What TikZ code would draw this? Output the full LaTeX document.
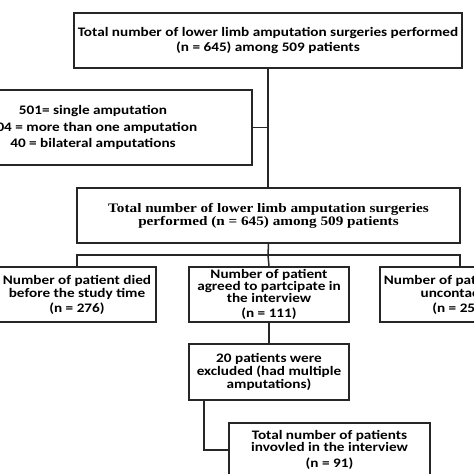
\documentclass[tikz,border=0pt]{standalone}
\usepackage{fontspec}
\setmainfont{Carlito}[FakeStretch=1.17]
\newfontfamily\serifbox{Liberation Serif}[FakeStretch=1.17]
\begin{document}
\begin{tikzpicture}[x=1pt,y=-1pt,
  box/.style={draw=black!85,line width=1.7pt,inner sep=0pt,align=center,
    font=\fontsize{13}{15.5}\selectfont\bfseries},
  conn/.style={draw=black!85,line width=1.5pt}]
\useasboundingbox (0,0) rectangle (474,474);
\clip (0,0) rectangle (474,474);
\node[box,minimum width=388,minimum height=55] (t) at (268,40.5)
  {Total number of lower limb amputation surgeries performed\\(n = 645) among 509 patients};
\node[box,minimum width=318,minimum height=75,font=\fontsize{13}{16.5}\selectfont\bfseries] (b2) at (93,127.5)
  {501= single amputation\\104 = more than one amputation\\40 = bilateral amputations};
\node[box,minimum width=383,minimum height=55,font=\serifbox\fontsize{13}{13}\selectfont\bfseries] (b3) at (268.5,215.5)
  {Total number of lower limb amputation surgeries\\performed (n = 645) among 509 patients};
\node[box,minimum width=158,minimum height=55,font=\fontsize{13}{13}\selectfont\bfseries] (b4) at (77,294.5)
  {Number of patient died\\before the study time\\[2pt](n = 276)};
\node[box,minimum width=160,minimum height=55,font=\fontsize{13}{12}\selectfont\bfseries] (b5) at (269,294.5)
  {Number of patient\\agreed to partcipate in\\the interview\\[3pt](n = 111)};
\node[box,minimum width=160,minimum height=55,font=\fontsize{13}{13}\selectfont\bfseries] (b6) at (460,294.5)
  {Number of patient were\\uncontacted\\[2pt](n = 258)};
\node[box,minimum width=160,minimum height=56,font=\fontsize{13}{11.5}\selectfont\bfseries] (b7) at (269,372)
  {20 patients were\\excluded (had multiple\\amputations)};
\node[box,minimum width=201,minimum height=54,font=\fontsize{13}{12}\selectfont\bfseries] (b8) at (329.5,450)
  {Total number of patients\\invovled in the interview\\[4pt](n = 91)};
\coordinate (j) at (268,255);
\draw[conn] (t.south) -- (t.south |- b3.north);
\draw[conn] (b2.east) -- (b2.east -| t.south);
\draw[conn] (b3.south) -- (j);
\draw[conn] (b4.north) |- (j) -| (b6.north);
\draw[conn] (j) -- (b5.north);
\draw[conn] (b5.south) -- (b7.north);
\draw[conn] ([xshift=16pt]b7.south west) |- (b8.west);
\end{tikzpicture}
\end{document}
